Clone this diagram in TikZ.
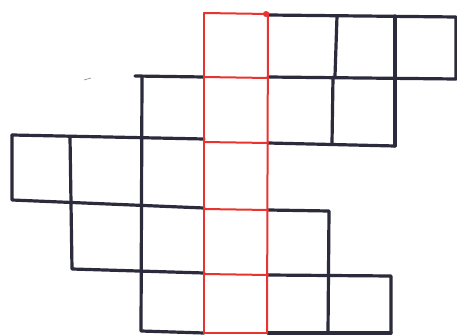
\documentclass[tikz,border=0pt]{standalone}
\usetikzlibrary{calc}
\definecolor{ink}{HTML}{2B2B3C}
\definecolor{redink}{HTML}{E8332E}
\tikzset{
  blk/.style={draw=ink, line width=3.2pt, line cap=round, line join=round},
  rd/.style={draw=redink, line width=2pt, line cap=round, line join=round},
}
\begin{document}
\begin{tikzpicture}[x=1pt,y=-1pt]
\path[use as bounding box] (0,0) rectangle (457,336);
% black grid
\draw[blk] (268,15) -- (456,17) -- (456,79) -- (268,77);
\draw[blk] (337,16) -- (335,76);
\draw[blk] (395,16) -- (395,146);
\draw[blk] (135,76) -- (204,77);
\draw[blk] (142,77) -- (141,331) -- (204,333);
\draw[blk] (268,143) -- (395,146);
\draw[blk] (333,77) -- (332,143);
\draw[blk] (12,135) -- (204,139);
\draw[blk] (12,135) -- (12,200) -- (204,208);
\draw[blk] (70,137) -- (72,269) -- (204,273);
\draw[blk] (268,210) -- (329,211) -- (328,333);
\draw[blk] (268,275) -- (391,276) -- (391,333);
\draw[blk] (268,333) -- (391,333);
% red column
\draw[rd] (204,13) -- (204,333);
\draw[rd] (268,13) -- (267,333);
\draw[rd] (204,13) -- (268,14);
\draw[rd] (204,77) -- (268,78);
\draw[rd] (204,142) -- (268,143);
\draw[rd] (204,209) -- (268,210);
\draw[rd] (204,274) -- (268,275);
\draw[rd] (204,333) -- (267,333);
\fill[redink] (266,14) circle (3pt);
% stray mark
\draw[gray, line width=0.6pt] (84,80) -- (91,78);
\end{tikzpicture}
\end{document}
